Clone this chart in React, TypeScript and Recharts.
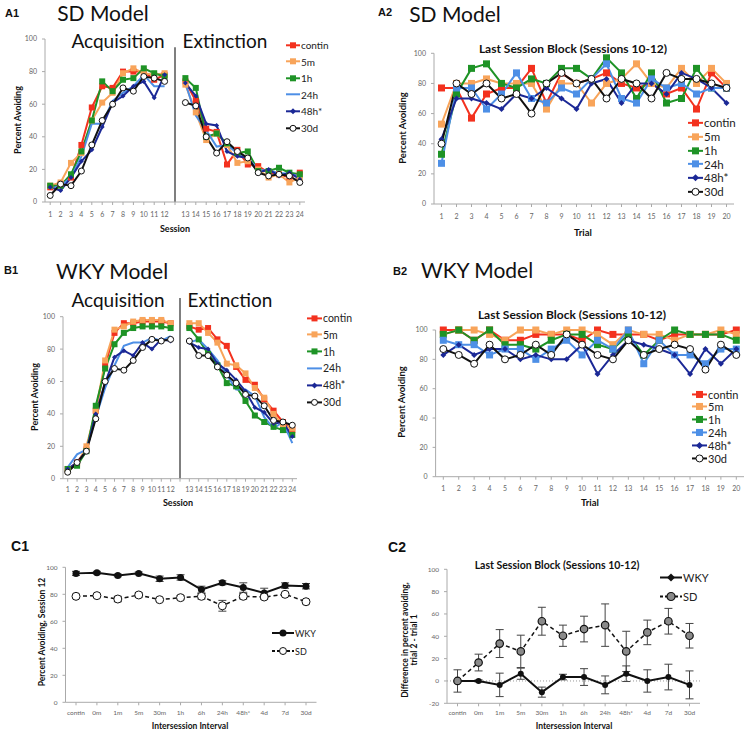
import React from "react"
import { LineChart, Line, XAxis, YAxis, ReferenceLine, ErrorBar } from "recharts"

// ---- categories ----
const acqSessions = ["1", "2", "3", "4", "5", "6", "7", "8", "9", "10", "11", "12"]
const extSessions = ["13", "14", "15", "16", "17", "18", "19", "20", "21", "22", "23", "24"]
const trials = ["1", "2", "3", "4", "5", "6", "7", "8", "9", "10", "11", "12", "13", "14", "15", "16", "17", "18", "19", "20"]
const intervals = ["contin", "0m", "1m", "5m", "30m", "1h", "6h", "24h", "48h*", "4d", "7d", "30d"]

// ---- A1: SD model, sessions 1-24 ----
const a1Contin = [9, 11, 15, 35, 58, 71, 70, 80, 80, 80, 75, 78, 74, 62, 45, 43, 23, 32, 23, 22, 18, 17, 15, 18]
const a1FiveMin = [10, 12, 24, 30, 50, 61, 67, 79, 82, 79, 78, 79, 72, 55, 38, 42, 35, 24, 25, 20, 15, 17, 12, 15]
const a1OneHour = [10, 10, 17, 31, 50, 74, 68, 75, 76, 82, 79, 77, 76, 70, 40, 42, 36, 30, 31, 19, 19, 21, 18, 17]
const a1OneDay = [8, 10, 15, 28, 48, 48, 62, 67, 71, 78, 71, 71, 73, 53, 44, 34, 35, 30, 27, 20, 19, 18, 17, 16]
const a1TwoDay = [9, 7, 15, 25, 32, 46, 61, 65, 71, 74, 64, 78, 73, 65, 48, 47, 31, 28, 27, 18, 20, 16, 18, 14]
const a1Month = [4, 11, 10, 19, 35, 50, 60, 70, 68, 77, 76, 74, 61, 59, 40, 30, 37, 31, 27, 18, 16, 17, 16, 12]

// ---- A2: SD model, last session block trials ----
const a2Contin = [77, 77, 57, 73, 77, 77, 90, 67, 87, 80, 83, 87, 80, 77, 80, 73, 77, 63, 87, 77]
const a2FiveMin = [53, 80, 80, 83, 80, 80, 80, 63, 80, 80, 67, 80, 83, 93, 80, 77, 90, 80, 90, 80]
const a2OneHour = [33, 73, 90, 93, 80, 77, 83, 80, 90, 90, 83, 97, 87, 70, 87, 67, 70, 90, 77, 77]
const a2OneDay = [27, 77, 77, 63, 73, 87, 70, 67, 77, 73, 83, 93, 70, 67, 83, 77, 80, 73, 77, 77]
const a2TwoDay = [43, 70, 70, 67, 63, 73, 70, 77, 70, 63, 80, 83, 67, 80, 80, 73, 87, 83, 77, 67]
const a2Month = [40, 80, 73, 80, 70, 73, 60, 80, 87, 80, 83, 70, 83, 80, 70, 87, 83, 83, 80, 77]

// ---- B1: WKY model, sessions 1-24 ----
const b1Contin = [6, 10, 18, 42, 70, 90, 96, 96, 97, 97, 97, 96, 94, 92, 93, 86, 82, 69, 61, 58, 49, 42, 35, 30]
const b1FiveMin = [5, 9, 20, 42, 73, 92, 94, 97, 98, 98, 98, 96, 96, 96, 90, 84, 71, 70, 65, 56, 50, 40, 33, 31]
const b1OneHour = [6, 8, 17, 45, 68, 83, 90, 93, 94, 94, 94, 93, 93, 86, 77, 70, 59, 57, 48, 39, 35, 32, 30, 27]
const b1OneDay = [7, 15, 18, 38, 56, 70, 82, 84, 84, 87, 85, 88, 84, 86, 80, 73, 64, 55, 55, 51, 38, 31, 35, 22]
const b1TwoDay = [6, 10, 17, 40, 59, 75, 79, 76, 84, 80, 86, 85, 84, 81, 80, 71, 67, 61, 54, 44, 41, 34, 35, 26]
const b1Month = [4, 10, 17, 37, 60, 68, 67, 73, 81, 86, 85, 86, 85, 76, 76, 69, 64, 59, 52, 51, 45, 36, 35, 33]

// ---- B2: WKY model, last session block trials ----
const b2Contin = [100, 100, 93, 100, 93, 93, 97, 97, 97, 93, 100, 97, 97, 97, 93, 97, 97, 97, 97, 100]
const b2FiveMin = [97, 100, 100, 97, 93, 100, 100, 97, 100, 100, 97, 90, 100, 97, 97, 93, 97, 97, 100, 97]
const b2OneHour = [97, 100, 93, 100, 90, 90, 87, 93, 97, 97, 90, 87, 97, 83, 93, 100, 97, 97, 97, 93]
const b2OneDay = [93, 90, 90, 83, 87, 87, 80, 87, 93, 83, 93, 87, 100, 77, 93, 83, 83, 77, 87, 87]
const b2TwoDay = [83, 90, 83, 87, 87, 80, 83, 80, 80, 90, 70, 83, 93, 90, 87, 83, 70, 87, 77, 87]
const b2Month = [87, 83, 77, 90, 80, 83, 90, 83, 97, 90, 83, 80, 93, 83, 87, 90, 87, 73, 90, 83]

// ---- C1: session 12 by interval ----
const c1Wky = [95.5, 96, 94, 95.5, 91.5, 92.5, 83.5, 88.5, 85, 81, 86.5, 86]
const c1WkyErr = [1.5, 1, 1, 1, 2, 2, 2.5, 1.5, 3.5, 3.5, 2, 2]
const c1Sd = [78.5, 79, 76.5, 79.5, 76, 77.5, 78.5, 71.5, 78.5, 78, 80, 74.5]
const c1SdErr = [1.5, 1, 2, 1.5, 1, 1.5, 2, 4, 2, 1.5, 1, 1.5]

// ---- C2: trial 2 - trial 1 by interval ----
const c2Wky = [0, 0, -3.5, 6.5, -10, 3.5, 3.5, -3.5, 6.5, 0, 3.5, -3.5]
const c2WkyErr = [10, 1, 10.5, 5, 4.5, 2.5, 7.5, 8, 7, 10, 11.5, 12.5]
const c2Sd = [0, 16.5, 33.5, 26.5, 53.5, 40.5, 46.5, 50, 26.5, 43.5, 53.5, 40.5]
const c2SdErr = [0, 7.5, 12.5, 14.5, 12.5, 9.5, 11.5, 19, 18, 11, 11.5, 11]

const LATO = "Lato, 'Open Sans', sans-serif"
const ARIAL = "'Liberation Sans', Arial, sans-serif"
const AXIS = "#aaa"
const TICK = { fontSize: 7, fill: "#666", fontFamily: LATO }

type Marker = "square" | "diamond" | "circle" | "dot" | "greyCircle" | "none"
type Group = { key: string; name: string; color: string; marker: Marker; dash?: string }

const groups: Group[] = [
  { key: "contin", name: "contin", color: "#f3311e", marker: "square" },
  { key: "m5", name: "5m", color: "#f8a45a", marker: "square" },
  { key: "h1", name: "1h", color: "#1e9326", marker: "square" },
  { key: "h24", name: "24h", color: "#4d8fe6", marker: "square" },
  { key: "h48", name: "48h*", color: "#1b2896", marker: "diamond" },
  { key: "d30", name: "30d", color: "#111111", marker: "circle" },
]
// in the session plots the 24h line has no markers
const sessionGroups = groups.map((g) => (g.key === "h24" ? { ...g, marker: "none" as Marker } : g))

const sessionLabels = [...acqSessions, " ", ...extSessions]

function sessionRows(series: Record<string, number[]>) {
  return sessionLabels.map((label, i) => {
    const row: Record<string, any> = { session: label }
    for (const k in series) row[k] = i === 12 ? null : series[k][i < 12 ? i : i - 1]
    return row
  })
}

function trialRows(series: Record<string, number[]>) {
  return trials.map((t, i) => {
    const row: Record<string, any> = { trial: t }
    for (const k in series) row[k] = series[k][i]
    return row
  })
}

const a1Data = sessionRows({ contin: a1Contin, m5: a1FiveMin, h1: a1OneHour, h24: a1OneDay, h48: a1TwoDay, d30: a1Month })
const b1Data = sessionRows({ contin: b1Contin, m5: b1FiveMin, h1: b1OneHour, h24: b1OneDay, h48: b1TwoDay, d30: b1Month })
const a2Data = trialRows({ contin: a2Contin, m5: a2FiveMin, h1: a2OneHour, h24: a2OneDay, h48: a2TwoDay, d30: a2Month })
const b2Data = trialRows({ contin: b2Contin, m5: b2FiveMin, h1: b2OneHour, h24: b2OneDay, h48: b2TwoDay, d30: b2Month })

const c1Data = intervals.map((name, i) => ({ name, wky: c1Wky[i], wkyErr: c1WkyErr[i], sd: c1Sd[i], sdErr: c1SdErr[i] }))
const c2Data = intervals.map((name, i) => ({ name, wky: c2Wky[i], wkyErr: c2WkyErr[i], sd: c2Sd[i], sdErr: c2SdErr[i] }))

function Mark({ shape, cx, cy, size, color }: { shape: Marker; cx: number; cy: number; size: number; color: string }) {
  const h = size / 2
  if (shape === "square") return <rect x={cx - h} y={cy - h} width={size} height={size} fill={color} />
  if (shape === "diamond")
    return <polygon points={`${cx},${cy - h} ${cx + h},${cy} ${cx},${cy + h} ${cx - h},${cy}`} fill={color} />
  if (shape === "circle") return <circle cx={cx} cy={cy} r={h} fill="#fff" stroke={color} strokeWidth={1} />
  if (shape === "greyCircle") return <circle cx={cx} cy={cy} r={h} fill="#8a8a8a" stroke="#111" strokeWidth={1.2} />
  if (shape === "dot") return <circle cx={cx} cy={cy} r={h} fill={color} />
  return <g />
}

const dotFor = (shape: Marker, color: string, size: number) => (p: any) => {
  const k = `dot-${p.index}`
  if (p.value == null || !Number.isFinite(p.cx) || !Number.isFinite(p.cy)) return <g key={k} />
  return <Mark key={k} shape={shape} cx={p.cx} cy={p.cy} size={size} color={color} />
}

function Txt({ x, y, size, bold, family = LATO, rotate, children }: any) {
  return (
    <div
      style={{
        position: "absolute",
        left: x,
        top: y,
        transform: `translate(-50%, -50%)${rotate ? " rotate(-90deg)" : ""}`,
        fontSize: size,
        fontWeight: bold ? 700 : 400,
        fontFamily: family,
        whiteSpace: "nowrap",
        color: "#111",
        lineHeight: 1.05,
        textAlign: "center",
      }}
    >
      {children}
    </div>
  )
}

function GroupLegend({ items, x, y, gap, fontSize, lineLen, markSize }: any) {
  return (
    <div style={{ position: "absolute", left: x, top: y - gap / 2, fontFamily: LATO, fontSize, color: "#222" }}>
      {items.map((g: Group) => (
        <div key={g.key} style={{ display: "flex", alignItems: "center", height: gap }}>
          <svg width={lineLen} height={gap} style={{ display: "block" }}>
            <line x1={0} x2={lineLen} y1={gap / 2} y2={gap / 2} stroke={g.color} strokeWidth={2} strokeDasharray={g.dash} />
            <Mark shape={g.marker} cx={lineLen / 2} cy={gap / 2} size={markSize} color={g.color} />
          </svg>
          <span style={{ marginLeft: 1 }}>{g.name}</span>
        </div>
      ))}
    </div>
  )
}

function GroupChart({ left, top, width, height, margin, data, xKey, items, pad, tickMargin, markSize, divider }: any) {
  return (
    <div style={{ position: "absolute", left, top }}>
      <LineChart width={width} height={height} data={data} margin={margin}>
        <XAxis
          dataKey={xKey}
          interval={0}
          height={20}
          padding={{ left: pad, right: pad }}
          tick={TICK}
          tickSize={3}
          tickMargin={tickMargin}
          stroke={AXIS}
        />
        <YAxis
          width={30}
          domain={[0, 100]}
          ticks={[0, 20, 40, 60, 80, 100]}
          tick={TICK}
          tickSize={3}
          tickMargin={5}
          stroke={AXIS}
        />
        {divider != null && (
          <ReferenceLine
            segment={[{ x: " ", y: divider }, { x: " ", y: 0 }]}
            stroke="#555"
            strokeWidth={1.5}
            ifOverflow="visible"
          />
        )}
        {items.map((g: Group) => (
          <Line
            key={g.key}
            dataKey={g.key}
            name={g.name}
            stroke={g.color}
            strokeWidth={2}
            dot={dotFor(g.marker, g.color, g.marker === "diamond" ? markSize - 1 : markSize)}
            activeDot={false}
            isAnimationActive={false}
          />
        ))}
      </LineChart>
    </div>
  )
}

function IntervalChart({ left, top, width, height, margin, data, domain, ticks, tickMargin, children }: any) {
  return (
    <div style={{ position: "absolute", left, top }}>
      <LineChart width={width} height={height} data={data} margin={margin}>
        <XAxis
          dataKey="name"
          interval={0}
          height={20}
          padding={{ left: 10.5, right: 10.5 }}
          tick={{ ...TICK, fontSize: 6.5 }}
          tickSize={3}
          tickMargin={tickMargin}
          stroke={AXIS}
        />
        <YAxis width={30} domain={domain} ticks={ticks} tick={{ ...TICK, fontSize: 6.5 }} tickSize={3} tickMargin={5} stroke={AXIS} />
        {children}
      </LineChart>
    </div>
  )
}

export default function App() {
  return (
    <div style={{ position: "absolute", left: 0, top: 0, width: 749, height: 735, background: "#fff", overflow: "hidden" }}>
      {/* A1 */}
      <GroupChart left={0} top={0} width={345} height={240} margin={{ top: 39, right: 40, bottom: 18, left: 15 }}
        data={a1Data} xKey="session" items={sessionGroups} pad={5.2} tickMargin={7.5} markSize={6} divider={95} />
      <Txt x={12} y={14} size={11} bold family={ARIAL}>A1</Txt>
      <Txt x={103} y={13} size={21}>SD Model</Txt>
      <Txt x={118} y={41} size={19}>Acquisition</Txt>
      <Txt x={225} y={41} size={19}>Extinction</Txt>
      <Txt x={18} y={120} size={9} bold rotate>Percent Avoiding</Txt>
      <Txt x={175} y={229} size={9} bold>Session</Txt>
      <GroupLegend items={sessionGroups} x={286} y={45} gap={16.6} fontSize={10} lineLen={14} markSize={6} />

      {/* A2 */}
      <GroupChart left={380} top={40} width={369} height={210} margin={{ top: 13.3, right: 15, bottom: 26, left: 24 }}
        data={a2Data} xKey="trial" items={groups} pad={7.5} tickMargin={7.5} markSize={7} />
      <Txt x={385} y={13} size={11} bold family={ARIAL}>A2</Txt>
      <Txt x={455} y={14} size={21}>SD Model</Txt>
      <Txt x={573} y={49} size={12} bold>Last Session Block (Sessions 10-12)</Txt>
      <Txt x={403} y={128} size={9.5} bold rotate>Percent Avoiding</Txt>
      <Txt x={583} y={233} size={9.5} bold>Trial</Txt>
      <GroupLegend items={groups} x={688} y={123} gap={13.7} fontSize={11.5} lineLen={15} markSize={7} />

      {/* B1 */}
      <GroupChart left={0} top={255} width={360} height={250} margin={{ top: 61.7, right: 63, bottom: 6.3, left: 33 }}
        data={b1Data} xKey="session" items={sessionGroups} pad={4.7} tickMargin={5.8} markSize={6} divider={111.5} />
      <Txt x={11} y={271} size={11} bold family={ARIAL}>B1</Txt>
      <Txt x={112} y={271} size={21}>WKY Model</Txt>
      <Txt x={118} y={300} size={19}>Acquisition</Txt>
      <Txt x={230} y={300} size={19}>Extinction</Txt>
      <Txt x={35} y={397} size={9} bold rotate>Percent Avoiding</Txt>
      <Txt x={178} y={503} size={9} bold>Session</Txt>
      <GroupLegend items={sessionGroups} x={307} y={318} gap={16.8} fontSize={10.5} lineLen={15} markSize={6} />

      {/* B2 */}
      <GroupChart left={380} top={300} width={369} height={210} margin={{ top: 30, right: 5, bottom: 13.3, left: 25.6 }}
        data={b2Data} xKey="trial" items={groups} pad={7.7} tickMargin={6.8} markSize={7} />
      <Txt x={400} y={272} size={11} bold family={ARIAL}>B2</Txt>
      <Txt x={477} y={270} size={21}>WKY Model</Txt>
      <Txt x={572} y={315} size={12} bold>Last Session Block (Sessions 10-12)</Txt>
      <Txt x={402} y={402} size={9.5} bold rotate>Percent Avoiding</Txt>
      <Txt x={590} y={503} size={9.5} bold>Trial</Txt>
      <GroupLegend items={groups} x={692} y={394} gap={12.9} fontSize={11} lineLen={15} markSize={7} />

      {/* C1 */}
      <IntervalChart left={0} top={540} width={370} height={195} margin={{ top: 27.3, right: 53.5, bottom: 12.7, left: 35.5 }}
        data={c1Data} domain={[0, 100]} ticks={[0, 20, 40, 60, 80, 100]} tickMargin={5.2}>
        <Line dataKey="wky" stroke="#111" strokeWidth={2} dot={dotFor("dot", "#111", 7)} activeDot={false} isAnimationActive={false}>
          <ErrorBar dataKey="wkyErr" width={4} stroke="#444" strokeWidth={1} isAnimationActive={false} />
        </Line>
        <Line dataKey="sd" stroke="#111" strokeWidth={1.5} strokeDasharray="4 3" dot={dotFor("circle", "#111", 8)} activeDot={false} isAnimationActive={false}>
          <ErrorBar dataKey="sdErr" width={4} stroke="#444" strokeWidth={1} isAnimationActive={false} />
        </Line>
      </IntervalChart>
      <Txt x={20} y={546} size={14} bold family={ARIAL}>C1</Txt>
      <Txt x={42} y={632} size={8.5} bold rotate>Percent Avoiding, Session 12</Txt>
      <Txt x={190} y={726} size={8.5} bold>Intersession Interval</Txt>
      <GroupLegend
        items={[
          { key: "wky", name: "WKY", color: "#111", marker: "dot" },
          { key: "sd", name: "SD", color: "#111", marker: "circle", dash: "3 2" },
        ]}
        x={272} y={633} gap={18} fontSize={9} lineLen={22} markSize={7}
      />

      {/* C2 */}
      <IntervalChart left={375} top={540} width={374} height={195} margin={{ top: 29.3, right: 49, bottom: 11.7, left: 42 }}
        data={c2Data} domain={[-20, 100]} ticks={[-20, 0, 20, 40, 60, 80, 100]} tickMargin={4.1}>
        <ReferenceLine y={0} stroke="#999" strokeDasharray="1 2" />
        <Line dataKey="wky" stroke="#111" strokeWidth={2} dot={dotFor("dot", "#111", 6)} activeDot={false} isAnimationActive={false}>
          <ErrorBar dataKey="wkyErr" width={4} stroke="#444" strokeWidth={1} isAnimationActive={false} />
        </Line>
        <Line dataKey="sd" stroke="#111" strokeWidth={1.5} strokeDasharray="4 3" dot={dotFor("greyCircle", "#111", 7.5)} activeDot={false} isAnimationActive={false}>
          <ErrorBar dataKey="sdErr" width={4} stroke="#444" strokeWidth={1} isAnimationActive={false} />
        </Line>
      </IntervalChart>
      <Txt x={397} y={547} size={14} bold family={ARIAL}>C2</Txt>
      <Txt x={557} y={566} size={10.5} bold>Last Session Block (Sessions 10-12)</Txt>
      <Txt x={410} y={640} size={8.5} bold rotate>
        Difference in percent avoiding,<br />trial 2 - trial 1
      </Txt>
      <Txt x={574} y={726} size={8.5} bold>Intersession Interval</Txt>
      <GroupLegend
        items={[
          { key: "wky", name: "WKY", color: "#111", marker: "diamond" },
          { key: "sd", name: "SD", color: "#111", marker: "greyCircle", dash: "3 2" },
        ]}
        x={660} y={577} gap={19} fontSize={11} lineLen={22} markSize={8}
      />
    </div>
  )
}
